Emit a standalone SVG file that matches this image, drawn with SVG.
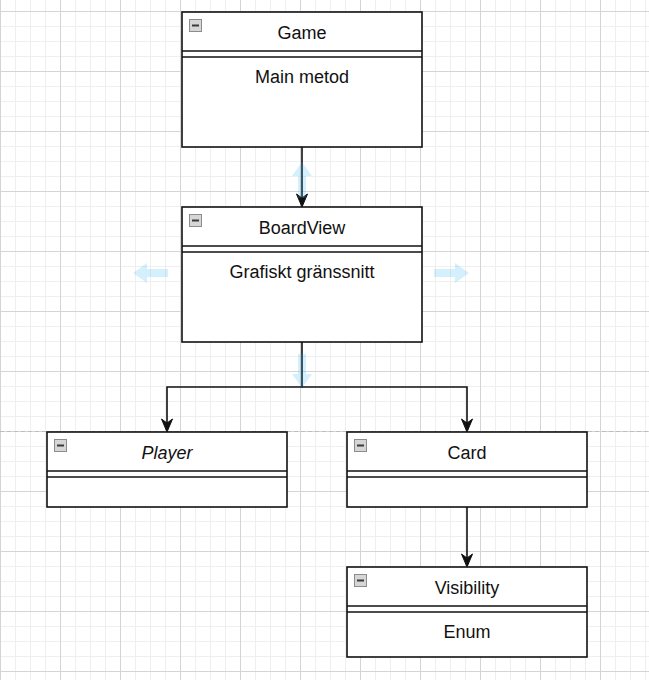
<svg xmlns="http://www.w3.org/2000/svg" width="649" height="680" viewBox="0 0 649 680">
  <style>
    .box { fill: #ffffff; stroke: #111111; stroke-width: 1.6; }
    .sep { stroke: #111111; stroke-width: 1.6; fill: none; }
    .label { font-family: "Liberation Sans", Arial, sans-serif; font-size: 18px; fill: #111111; text-anchor: middle; }
    .italic { font-style: italic; }
    .edge { stroke: #111111; stroke-width: 1.6; fill: none; }
    .head { fill: #111111; stroke: #111111; stroke-width: 1; stroke-linejoin: miter; }
    .toggle { fill: #d6d6d6; stroke: #8c8c8c; stroke-width: 1; }
    .toggle-bar { stroke: #3a3a3a; stroke-width: 2; }
    .hover { fill: #29b6f2; opacity: 0.2; }
  </style>
  <defs>
    <pattern id="grid" patternUnits="userSpaceOnUse" x="0" y="11" width="60" height="60">
      <rect x="0" y="0" width="60" height="60" fill="#ffffff"/>
      <rect x="15" y="0" width="1" height="60" fill="#efefef"/>
      <rect x="30" y="0" width="1" height="60" fill="#efefef"/>
      <rect x="45" y="0" width="1" height="60" fill="#efefef"/>
      <rect x="0" y="15" width="60" height="1" fill="#efefef"/>
      <rect x="0" y="30" width="60" height="1" fill="#efefef"/>
      <rect x="0" y="45" width="60" height="1" fill="#efefef"/>
      <rect x="0" y="0" width="60" height="1" fill="#d4d4d4"/>
      <rect x="0" y="0" width="1" height="60" fill="#d4d4d4"/>
    </pattern>
    <g id="toggle">
      <rect class="toggle" x="0.5" y="0.5" width="12" height="12"/>
      <line class="toggle-bar" x1="3" y1="6.5" x2="10" y2="6.5"/>
    </g>
  </defs>

  <!-- canvas grid and page break -->
  <rect x="0" y="0" width="649" height="680" fill="url(#grid)"/>
  <line x1="0" y1="431.5" x2="649" y2="431.5" stroke="#bdbdbd" stroke-width="1" stroke-dasharray="4 3"/>

  <!-- connectors -->
  <g id="connectors">
    <line class="edge" x1="302" y1="147" x2="302" y2="198"/>
    <path class="head" d="M302,207 L296.5,194 L302,198 L307.5,194 Z"/>

    <polyline class="edge" points="302,342 302,387 167,387 167,423"/>
    <path class="head" d="M167,432 L161.5,419 L167,423 L172.5,419 Z"/>
    <polyline class="edge" points="302,387 467,387 467,423"/>
    <path class="head" d="M467,432 L461.5,419 L467,423 L472.5,419 Z"/>

    <line class="edge" x1="467" y1="507" x2="467" y2="558"/>
    <path class="head" d="M467,567 L461.5,554 L467,558 L472.5,554 Z"/>
  </g>

  <!-- Game -->
  <g id="game">
    <rect class="box" x="182" y="12" width="240" height="135"/>
    <line class="sep" x1="182" y1="51" x2="422" y2="51"/>
    <line class="sep" x1="182" y1="57" x2="422" y2="57"/>
    <use href="#toggle" x="189" y="19"/>
    <text class="label" x="302" y="39">Game</text>
    <text class="label" x="302" y="83">Main metod</text>
  </g>

  <!-- BoardView -->
  <g id="boardview">
    <rect class="box" x="182" y="207" width="240" height="135"/>
    <line class="sep" x1="182" y1="246" x2="422" y2="246"/>
    <line class="sep" x1="182" y1="252" x2="422" y2="252"/>
    <use href="#toggle" x="189" y="214"/>
    <text class="label" x="302" y="234">BoardView</text>
    <text class="label" x="302" y="278">Grafiskt gränssnitt</text>
  </g>

  <!-- Player -->
  <g id="player">
    <rect class="box" x="47" y="432" width="240" height="75"/>
    <line class="sep" x1="47" y1="471" x2="287" y2="471"/>
    <line class="sep" x1="47" y1="477" x2="287" y2="477"/>
    <use href="#toggle" x="54" y="439"/>
    <text class="label italic" x="167" y="459">Player</text>
  </g>

  <!-- Card -->
  <g id="card">
    <rect class="box" x="347" y="432" width="240" height="75"/>
    <line class="sep" x1="347" y1="471" x2="587" y2="471"/>
    <line class="sep" x1="347" y1="477" x2="587" y2="477"/>
    <use href="#toggle" x="354" y="439"/>
    <text class="label" x="467" y="459">Card</text>
  </g>

  <!-- Visibility -->
  <g id="visibility">
    <rect class="box" x="347" y="567" width="240" height="90"/>
    <line class="sep" x1="347" y1="606" x2="587" y2="606"/>
    <line class="sep" x1="347" y1="612" x2="587" y2="612"/>
    <use href="#toggle" x="354" y="574"/>
    <text class="label" x="467" y="594">Visibility</text>
    <text class="label" x="467" y="638">Enum</text>
  </g>

  <!-- hover direction arrows around BoardView -->
  <g id="hover-arrows">
    <path class="hover" d="M302,162 L312,176 L306,176 L306,198 L298,198 L298,176 L292,176 Z"/>
    <path class="hover" d="M302,388 L312,374 L306,374 L306,354 L298,354 L298,374 L292,374 Z"/>
    <path class="hover" d="M133,273 L147,263 L147,269 L168,269 L168,277 L147,277 L147,283 Z"/>
    <path class="hover" d="M469,273 L455,263 L455,269 L434,269 L434,277 L455,277 L455,283 Z"/>
  </g>
</svg>
